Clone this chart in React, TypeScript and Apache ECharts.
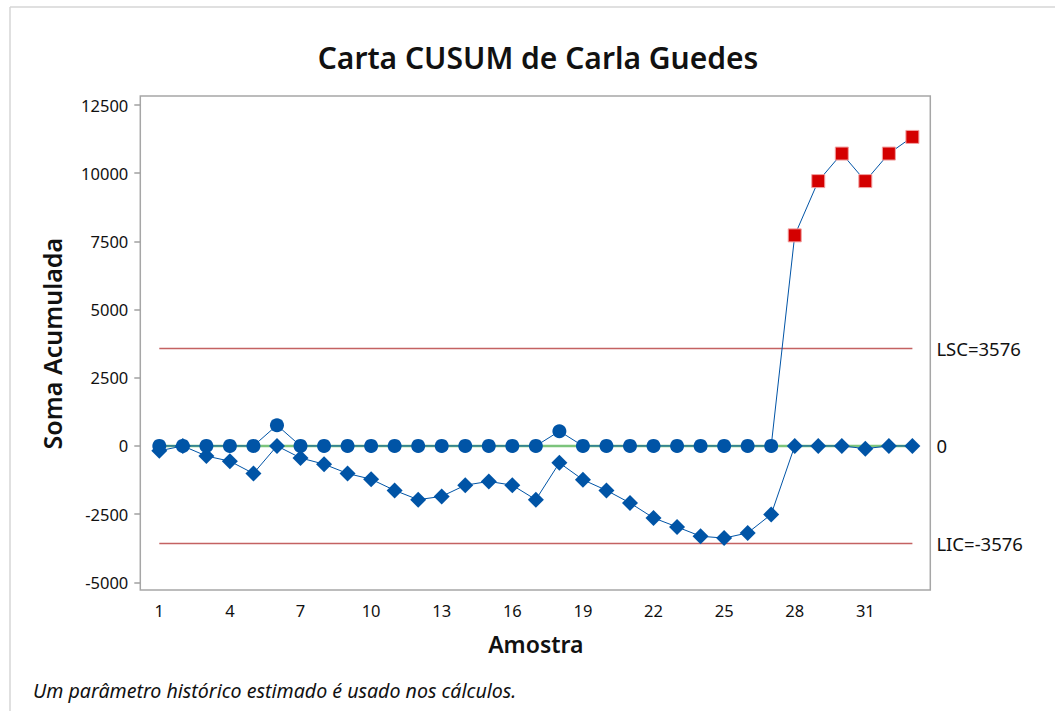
import React, { useEffect, useRef } from "react";
import * as echarts from "echarts";

const samples = [1,2,3,4,5,6,7,8,9,10,11,12,13,14,15,16,17,18,19,20,21,22,23,24,25,26,27,28,29,30,31,32,33];
const upperCusum = [0,0,0,0,0,760,0,0,0,0,0,0,0,0,0,0,0,540,0,0,0,0,0,0,0,0,0,7720,9710,10720,9710,10720,11330];
const lowerCusum = [-180,0,-370,-560,-1010,0,-440,-670,-1010,-1220,-1630,-1970,-1850,-1440,-1300,-1440,-1970,-620,-1240,-1630,-2090,-2640,-2970,-3310,-3380,-3190,-2510,0,0,0,-100,0,0];
const LSC = 3576;
const LIC = -3576;
const CENTER = 0;
const yTicks = { min: -5000, max: 12500, interval: 2500 };
const xTickValues = [1, 4, 7, 10, 13, 16, 19, 22, 25, 28, 31];

const FONT = "'Noto Sans', 'Open Sans', sans-serif";
const BLUE = "#0054a6";
const RED_LINE = "#c46262";
const GREEN = "#7cc47c";

export default function App() {
  const ref = useRef<HTMLDivElement>(null);
  useEffect(() => {
    if (!ref.current) return;
    const chart = echarts.init(ref.current, null, { renderer: "svg" });
    const first = samples[0];
    const last = samples[samples.length - 1];
    const refLine = (name: string, v: number, color: string, width: number, label: string) => ({
      type: "line",
      name,
      data: [[first, v], [last, v]],
      symbol: "none",
      silent: true,
      z: 1,
      lineStyle: { color, width },
      endLabel: {
        show: true,
        formatter: label,
        distance: 24,
        color: "#111",
        fontSize: 18.5,
        fontFamily: FONT,
      },
    });
    chart.setOption({
      animation: false,
      backgroundColor: "#fff",
      grid: { left: 159.3, right: 142.6, top: 105, bottom: 128.7 },
      xAxis: {
        type: "value",
        min: first,
        max: last,
        offset: 7.7,
        name: "Amostra",
        nameLocation: "middle",
        nameGap: 42,
        nameTextStyle: { fontFamily: FONT, fontSize: 23, fontWeight: 600, color: "#111" },
        axisLine: { show: false },
        axisTick: { show: true, length: 7, customValues: xTickValues, lineStyle: { color: "#a0a0a0", width: 1.5 } },
        axisLabel: { fontFamily: FONT, fontSize: 16.5, color: "#111", margin: 12, customValues: xTickValues },
        splitLine: { show: false },
      },
      yAxis: {
        type: "value",
        min: yTicks.min,
        max: yTicks.max,
        interval: yTicks.interval,
        offset: 19,
        name: "Soma Acumulada",
        nameLocation: "middle",
        nameGap: 76,
        nameTextStyle: { fontFamily: FONT, fontSize: 25, fontWeight: 600, color: "#111" },
        axisLine: { show: false },
        axisTick: { show: true, length: 6, lineStyle: { color: "#a0a0a0", width: 1.5 } },
        axisLabel: { fontFamily: FONT, fontSize: 16.5, color: "#111", margin: 12, formatter: (v: number) => String(v) },
        splitLine: { show: false },
      },
      graphic: [
        { type: "line", shape: { x1: 10, y1: 7, x2: 1055, y2: 7 }, style: { stroke: "#d6d6d6", lineWidth: 1.5 } },
        { type: "line", shape: { x1: 10, y1: 7, x2: 10, y2: 711 }, style: { stroke: "#d6d6d6", lineWidth: 1.5 } },
        { type: "rect", shape: { x: 140.3, y: 96, width: 790, height: 494 }, style: { fill: "none", stroke: "#a6a6a6", lineWidth: 1.5 }, silent: true },
        {
          type: "text",
          x: 538,
          y: 57,
          style: {
            text: "Carta CUSUM de Carla Guedes",
            fontFamily: FONT,
            fontSize: 30,
            fontWeight: 600,
            fill: "#111",
            align: "center",
            verticalAlign: "middle",
          },
        },
        {
          type: "text",
          x: 33,
          y: 690,
          style: {
            text: "Um parâmetro histórico estimado é usado nos cálculos.",
            fontFamily: FONT,
            fontStyle: "italic",
            fontSize: 19.6,
            fill: "#111",
            verticalAlign: "middle",
          },
        },
      ],
      series: [
        refLine("LSC", LSC, RED_LINE, 1.5, "LSC=3576"),
        refLine("LIC", LIC, RED_LINE, 1.5, "LIC=-3576"),
        refLine("Centro", CENTER, GREEN, 2.5, "0"),
        {
          type: "line",
          name: "Inferior",
          data: samples.map((s, i) => [s, lowerCusum[i]]),
          symbol: "diamond",
          symbolSize: 16,
          z: 3,
          lineStyle: { color: BLUE, width: 1 },
          itemStyle: { color: BLUE },
        },
        {
          type: "line",
          name: "Superior",
          data: samples.map((s, i) =>
            upperCusum[i] > LSC
              ? { value: [s, upperCusum[i]], symbol: "rect", symbolSize: 13, itemStyle: { color: "#d40000", borderColor: "#f2a0a0", borderWidth: 1 } }
              : [s, upperCusum[i]]
          ),
          symbol: "circle",
          symbolSize: 14,
          z: 4,
          lineStyle: { color: BLUE, width: 1 },
          itemStyle: { color: BLUE },
        },
      ],
    });
    return () => chart.dispose();
  }, []);
  return <div ref={ref} style={{ position: "fixed", left: 0, top: 0, width: 1055, height: 711 }} />;
}
